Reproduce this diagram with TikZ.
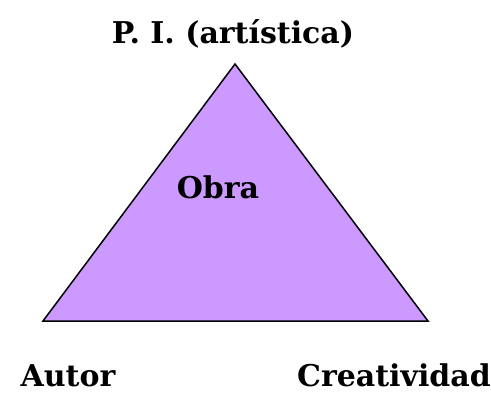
\documentclass[tikz,border=0pt]{standalone}
\usepackage{fontspec}
\setmainfont{DejaVu Serif}
\definecolor{ObraClr}{RGB}{204,153,255}

\begin{document}
\begin{tikzpicture}[x=1pt,y=-1pt]
\tikzset{lbl/.style={font=\bfseries\fontsize{30}{36}\selectfont,inner sep=0pt,anchor=base}}
\useasboundingbox (0,0) rectangle (491,394);

\coordinate (P) at (235,64);
\coordinate (A) at (43,321);
\coordinate (C) at (428,321);

\draw[fill=ObraClr,line width=1.5pt,line join=miter] (A) -- (C) -- (P) -- cycle;

\node[lbl] (pi) at (233,43) {P. I. (artística)};
\node[lbl] (obra) at (218,198) {Obra};
\node[lbl] (autor) at (68,386) {Autor};
\node[lbl] (crea) at (394,386) {Creatividad};

\end{tikzpicture}
\end{document}
